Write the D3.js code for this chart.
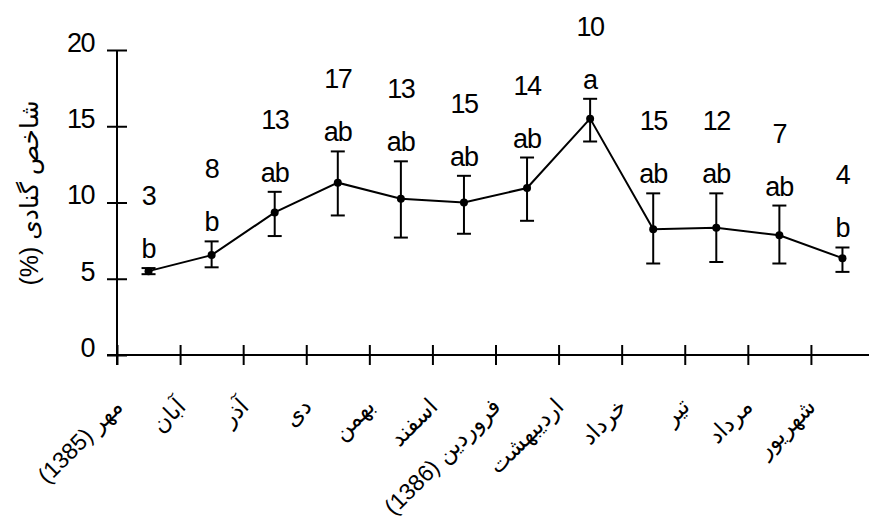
<!DOCTYPE html>
<html>
<head>
<meta charset="utf-8">
<script src="https://cdn.jsdelivr.net/npm/d3@7"></script>
<style>
  body { margin: 0; background: #fff; }
  #chart { position: relative; width: 869px; height: 524px; overflow: hidden; }
  text, .month { font-family: "Liberation Sans", "DejaVu Sans", sans-serif; }
  .month {
    position: absolute;
    white-space: nowrap;
    line-height: 1;
    font-size: 23px;
    color: #000;
    transform-origin: 0 0;
  }
</style>
</head>
<body>
<div id="chart"></div>
<script>
const months = ["مهر (1385)", "آبان", "آذر", "دی", "بهمن", "اسفند",
    "فروردین (1386)", "اردیبهشت", "خرداد", "تیر", "مرداد", "شهریور"];
const gsiMean = [5.5, 6.55, 9.35, 11.3, 10.25, 10.0, 10.95, 15.5, 8.25, 8.35, 7.85, 6.35];
const gsiLow  = [5.3, 5.75, 7.8, 9.15, 7.7, 7.95, 8.8, 14.0, 6.0, 6.1, 6.0, 5.45];
const gsiHigh = [5.7, 7.45, 10.7, 13.35, 12.7, 11.75, 12.95, 16.8, 10.6, 10.6, 9.8, 7.05];
const groups  = ["b", "b", "ab", "ab", "ab", "ab", "ab", "a", "ab", "ab", "ab", "b"];
const counts  = [3, 8, 13, 17, 13, 15, 14, 10, 15, 12, 7, 4];
const yTicks  = [0, 5, 10, 15, 20];
const yTitle  = "شاخص گنادی (%)";

const width = 869;
const height = 524;

const chart = d3.select("#chart");
const svg = chart.append("svg")
    .attr("width", width)
    .attr("height", height);

// index scale: ticks sit on month boundaries, points in the middle
const x = d3.scaleLinear().domain([0, months.length]).range([117, 874]);
const y = d3.scaleLinear().domain([0, 20]).range([355, 50]);

// y axis
const yAxis = svg.append("g")
    .attr("transform", `translate(${x(0)},0)`)
    .call(d3.axisLeft(y).tickValues(yTicks).tickSize(10).tickPadding(10));
yAxis.select(".domain").remove();
yAxis.selectAll(".tick line").attr("x1", -10).attr("x2", 10).attr("stroke-width", 2);
yAxis.selectAll(".tick text")
    .attr("dy", "0.05em")
    .attr("x", -23)
    .style("font-size", "27px")
    .style("letter-spacing", "-1.5px")
    .attr("fill", "#000");
yAxis.append("line")
    .attr("x1", 0).attr("x2", 0)
    .attr("y1", y(20)).attr("y2", y(0) + 10)
    .attr("stroke", "#000").attr("stroke-width", 2);

// x axis
const xAxis = svg.append("g")
    .attr("transform", `translate(0,${y(0)})`)
    .call(d3.axisBottom(x).tickValues(d3.range(months.length)).tickSize(10).tickFormat(""));
xAxis.select(".domain").remove();
xAxis.selectAll(".tick line").attr("y1", -10).attr("y2", 10).attr("stroke-width", 2);
xAxis.append("line")
    .attr("x1", x(0) - 10).attr("x2", width)
    .attr("y1", 0).attr("y2", 0)
    .attr("stroke", "#000").attr("stroke-width", 2);

// month labels, rotated, right end of baseline pinned under each point
chart.selectAll(".month")
    .data(months)
    .join("div")
    .attr("class", "month")
    .style("left", (d, i) => `${x(i + 0.5) - 25}px`)
    .style("top", `${y(0) + 53}px`)
    .style("transform", "rotate(-45deg) translate(-100%, -19px)")
    .text(d => d);

// y title
svg.append("text")
    .attr("transform", `translate(38,193) rotate(-90)`)
    .attr("text-anchor", "middle")
    .attr("direction", "rtl")
    .style("font-size", "25px")
    .text(yTitle);

// mean line
svg.append("path")
    .datum(gsiMean)
    .attr("fill", "none")
    .attr("stroke", "#000")
    .attr("stroke-width", 2)
    .attr("d", d3.line().x((d, i) => x(i + 0.5)).y(d => y(d)));

// error bars
const bars = svg.append("g").attr("stroke", "#000").attr("stroke-width", 2);
months.forEach((m, i) => {
    const cx = x(i + 0.5);
    bars.append("line").attr("x1", cx).attr("x2", cx).attr("y1", y(gsiLow[i])).attr("y2", y(gsiHigh[i]));
    bars.append("line").attr("x1", cx - 7).attr("x2", cx + 7).attr("y1", y(gsiLow[i])).attr("y2", y(gsiLow[i]));
    bars.append("line").attr("x1", cx - 7).attr("x2", cx + 7).attr("y1", y(gsiHigh[i])).attr("y2", y(gsiHigh[i]));
});

svg.selectAll(".pt")
    .data(gsiMean)
    .join("circle")
    .attr("class", "pt")
    .attr("cx", (d, i) => x(i + 0.5))
    .attr("cy", d => y(d))
    .attr("r", 4)
    .attr("fill", "#000");

// group letters and sample sizes
svg.selectAll(".grp")
    .data(groups)
    .join("text")
    .attr("class", "grp")
    .attr("x", (d, i) => x(i + 0.5))
    .attr("y", (d, i) => y(gsiHigh[i]) - 10)
    .attr("text-anchor", "middle")
    .style("font-size", "27px")
    .style("letter-spacing", "-1px")
    .text(d => d);

svg.selectAll(".cnt")
    .data(counts)
    .join("text")
    .attr("class", "cnt")
    .attr("x", (d, i) => x(i + 0.5))
    .attr("y", (d, i) => y(gsiHigh[i]) - 63)
    .attr("text-anchor", "middle")
    .style("font-size", "27px")
    .style("letter-spacing", "-1.5px")
    .text(d => d);
</script>
</body>
</html>
